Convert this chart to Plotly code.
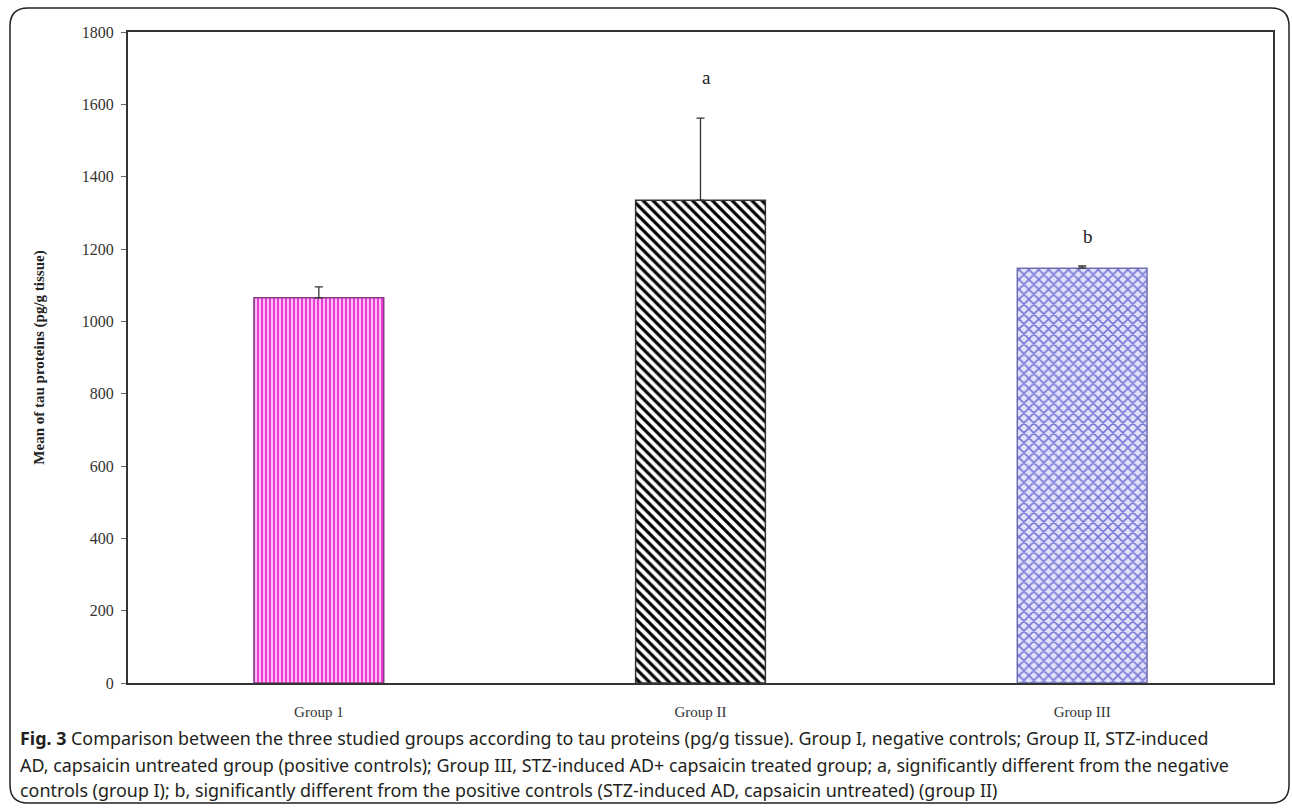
import plotly.graph_objects as go

# ---- data ----
groups = ["Group 1", "Group II", "Group III"]
means = [1065, 1335, 1147]
err_plus = [30, 227, 6]
sig_letters = ["", "a", "b"]
sig_y = [0, 1675, 1235]
y_ticks = [0, 200, 400, 600, 800, 1000, 1200, 1400, 1600, 1800]

caption_lines = [
    "<b>Fig. 3</b> Comparison between the three studied groups according to tau proteins (pg/g tissue). Group I, negative controls; Group II, STZ-induced",
    "AD, capsaicin untreated group (positive controls); Group III, STZ-induced AD+ capsaicin treated group; a, significantly different from the negative",
    "controls (group I); b, significantly different from the positive controls (STZ-induced AD, capsaicin untreated) (group II)",
]

# ---- styles ----
bg_colors = ["#f7bff2", "#ffffff", "#e2e2fb"]
fg_colors = ["#ec3cd4", "#000000", "#7676d8"]
edge_colors = ["#8a3a88", "#333333", "#7070b0"]
shapes_ = ["|", "\\", "x"]
sizes = [4, 7, 7]
solid = [0.5, 0.45, 0.4]

# ---- layout constants ----
W, H = 1292, 810
ML, MR, MT, MB = 128, 19, 32, 127
PW = W - ML - MR
PH = H - MT - MB


def px(x):
    return (x - ML) / PW


def py(y):
    return (H - MB - y) / PH


fig = go.Figure()
for i in range(len(groups)):
    fig.add_trace(go.Bar(
        x=[groups[i]],
        y=[means[i]],
        width=0.34,
        error_y=dict(type="data", array=[err_plus[i]], arrayminus=[0],
                     symmetric=False, color="#333333", thickness=1.3, width=4),
        marker=dict(
            color=bg_colors[i],
            line=dict(color=edge_colors[i], width=1.5),
            pattern=dict(shape=shapes_[i], fgcolor=fg_colors[i], fgopacity=1,
                         size=sizes[i], solidity=solid[i], fillmode="overlay"),
        ),
        showlegend=False,
    ))

# significance letters
for g, s, yv in zip(groups, sig_letters, sig_y):
    if s:
        fig.add_annotation(x=g, y=yv, text=s, showarrow=False, xshift=6,
                           font=dict(family="Liberation Serif", size=19, color="#222"))

# caption
cap_y = [738, 765, 790]
for line, yy in zip(caption_lines, cap_y):
    fig.add_annotation(xref="paper", yref="paper", x=px(18), y=py(yy),
                       xanchor="left", yanchor="middle", showarrow=False, text=line,
                       font=dict(family="Noto Sans, sans-serif",
                                 size=17.9, color="#231f20"))

# outer rounded border
x0, x1, y0, y1, r = px(10), px(1289), py(8), py(803), 18
rx, ry = r / PW, r / PH
path = (f"M {x0+rx},{y0} L {x1-rx},{y0} Q {x1},{y0} {x1},{y0-ry} "
        f"L {x1},{y1+ry} Q {x1},{y1} {x1-rx},{y1} "
        f"L {x0+rx},{y1} Q {x0},{y1} {x0},{y1+ry} "
        f"L {x0},{y0-ry} Q {x0},{y0} {x0+rx},{y0} Z")
fig.add_shape(type="path", path=path, xref="paper", yref="paper",
              line=dict(color="#222222", width=1.5), layer="below")

fig.update_layout(
    width=W, height=H,
    barmode="overlay",
    margin=dict(l=ML, r=MR, t=MT, b=MB, autoexpand=False),
    paper_bgcolor="white", plot_bgcolor="white",
)
fig.update_xaxes(
    automargin=False, categoryorder="array", categoryarray=groups,
    showline=True, linecolor="#333333", linewidth=2, mirror=True,
    ticks="", showgrid=False, ticklabelstandoff=14,
    tickfont=dict(family="Liberation Serif", size=15, color="#333"),
)
fig.update_yaxes(
    automargin=False,
    range=[0, 1800], tickvals=y_ticks, showgrid=False, zeroline=False,
    showline=True, linecolor="#333333", linewidth=2, mirror=True,
    ticks="outside", ticklen=5, tickcolor="#666", ticklabelstandoff=4,
    tickfont=dict(family="Liberation Serif", size=16, color="#333"),
    title=dict(text="<b>Mean of tau proteins (pg/g tissue)</b>", standoff=34,
               font=dict(family="Liberation Serif", size=15, color="#222")),
)

fig.write_html(
    "out.html",
    config={"displayModeBar": False},
    post_script="document.body.style.margin='0';document.body.style.overflow='hidden';",
)
